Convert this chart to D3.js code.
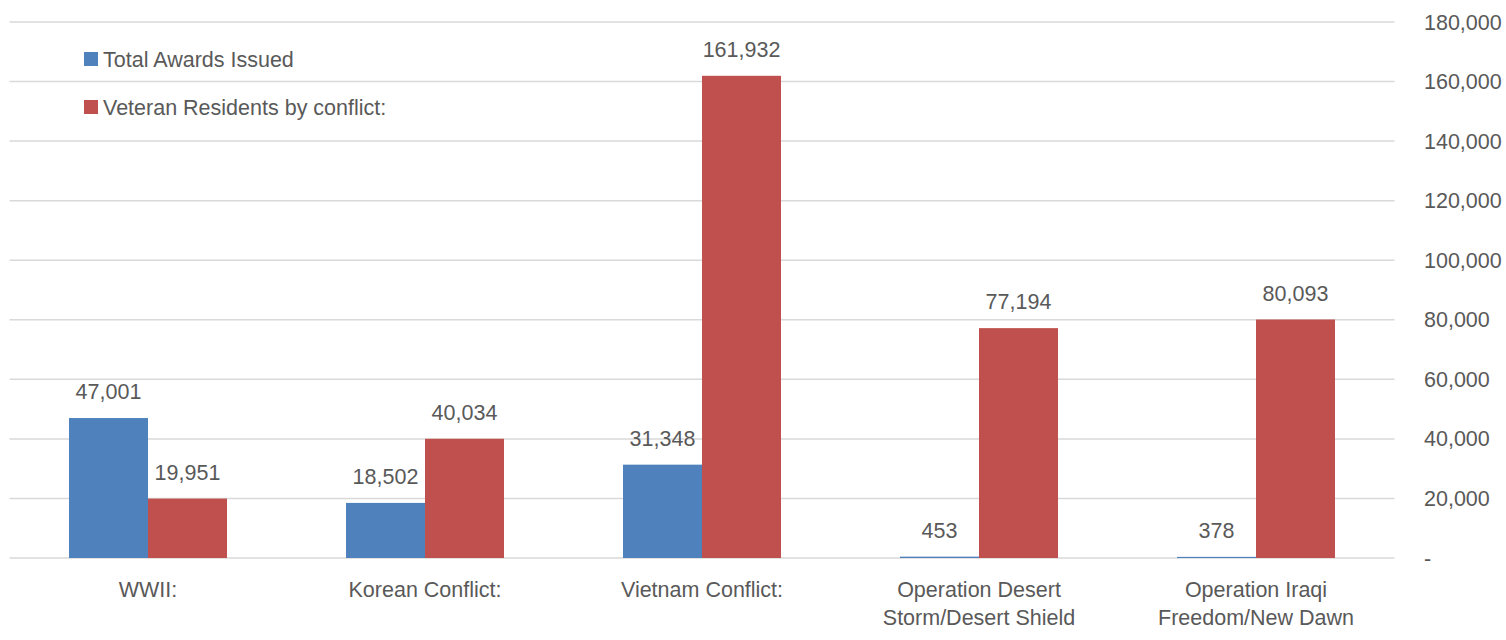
<!DOCTYPE html>
<html>
<head>
<meta charset="utf-8">
<script src="https://cdn.jsdelivr.net/npm/d3@7"></script>
<style>
  body { margin: 0; background: #fff; }
  text { font-family: "Liberation Sans", Arial, sans-serif; fill: #595959; }
</style>
</head>
<body>
<svg id="chart" width="1506" height="640"></svg>
<script>
var categories = [
    ["WWII:"],
    ["Korean Conflict:"],
    ["Vietnam Conflict:"],
    ["Operation Desert", "Storm/Desert Shield"],
    ["Operation Iraqi", "Freedom/New Dawn"]
]
var seriesNames = ["Total Awards Issued", "Veteran Residents by conflict:"]
var awards = [47001, 18502, 31348, 453, 378]
var residents = [19951, 40034, 161932, 77194, 80093]
var yTicks = [0, 20000, 40000, 60000, 80000, 100000, 120000, 140000, 160000, 180000]
var colors = ["#4f81bd", "#c0504d"]

var svg = d3.select("#chart")
var fmt = d3.format(",")

var xleft = 9.5, xright = 1394.5, ytop = 22, ybottom = 558
var fontSize = "21.5px"

var x0 = d3.scaleBand()
    .domain(d3.range(categories.length))
    .range([xleft, xright])
    .paddingInner(0)
    .paddingOuter(0)
var groupWidth = 158
var x1 = d3.scaleBand()
    .domain([0, 1])
    .range([(x0.bandwidth() - groupWidth) / 2, (x0.bandwidth() + groupWidth) / 2])
var y = d3.scaleLinear().domain([0, 180000]).range([ybottom, ytop])

// gridlines
svg.append("g")
    .selectAll("line")
    .data(yTicks)
    .enter()
    .append("line")
    .attr("x1", xleft)
    .attr("x2", xright)
    .attr("y1", function(d){return y(d)})
    .attr("y2", function(d){return y(d)})
    .attr("stroke", "#d9d9d9")
    .attr("stroke-width", 1.5)

// right axis labels
svg.append("g")
    .selectAll("text")
    .data(yTicks)
    .enter()
    .append("text")
    .attr("x", 1424)
    .attr("y", function(d){return y(d) + 7.5})
    .attr("font-size", fontSize)
    .text(function(d){return d === 0 ? "-" : fmt(d)})

var rows = categories.map(function(c, i){return [awards[i], residents[i]]})

var groups = svg.append("g")
    .selectAll("g")
    .data(rows)
    .enter()
    .append("g")
    .attr("transform", function(d, i){return "translate(" + x0(i) + ",0)"})

groups.selectAll("rect")
    .data(function(d){return d})
    .enter()
    .append("rect")
    .attr("x", function(d, j){return x1(j)})
    .attr("y", function(d){return y(d)})
    .attr("width", x1.bandwidth())
    .attr("height", function(d){return ybottom - y(d)})
    .attr("fill", function(d, j){return colors[j]})

groups.selectAll("text.val")
    .data(function(d){return d})
    .enter()
    .append("text")
    .attr("class", "val")
    .attr("x", function(d, j){return x1(j) + x1.bandwidth() / 2})
    .attr("y", function(d){return y(d) - 19})
    .attr("text-anchor", "middle")
    .attr("font-size", fontSize)
    .text(function(d){return fmt(d)})

// category labels
groups.selectAll("text.cat")
    .data(function(d, i){return categories[i]})
    .enter()
    .append("text")
    .attr("class", "cat")
    .attr("x", x0.bandwidth() / 2)
    .attr("y", function(d, k){return 597 + k * 28})
    .attr("text-anchor", "middle")
    .attr("font-size", fontSize)
    .text(function(d){return d})

// legend
var legend = svg.append("g")
    .selectAll("g")
    .data(seriesNames)
    .enter()
    .append("g")
    .attr("transform", function(d, i){return "translate(84," + (52 + i * 48) + ")"})

legend.append("rect")
    .attr("width", 14)
    .attr("height", 14)
    .attr("fill", function(d, i){return colors[i]})

legend.append("text")
    .attr("x", 19)
    .attr("y", 14.5)
    .attr("font-size", fontSize)
    .text(function(d){return d})
</script>
</body>
</html>
